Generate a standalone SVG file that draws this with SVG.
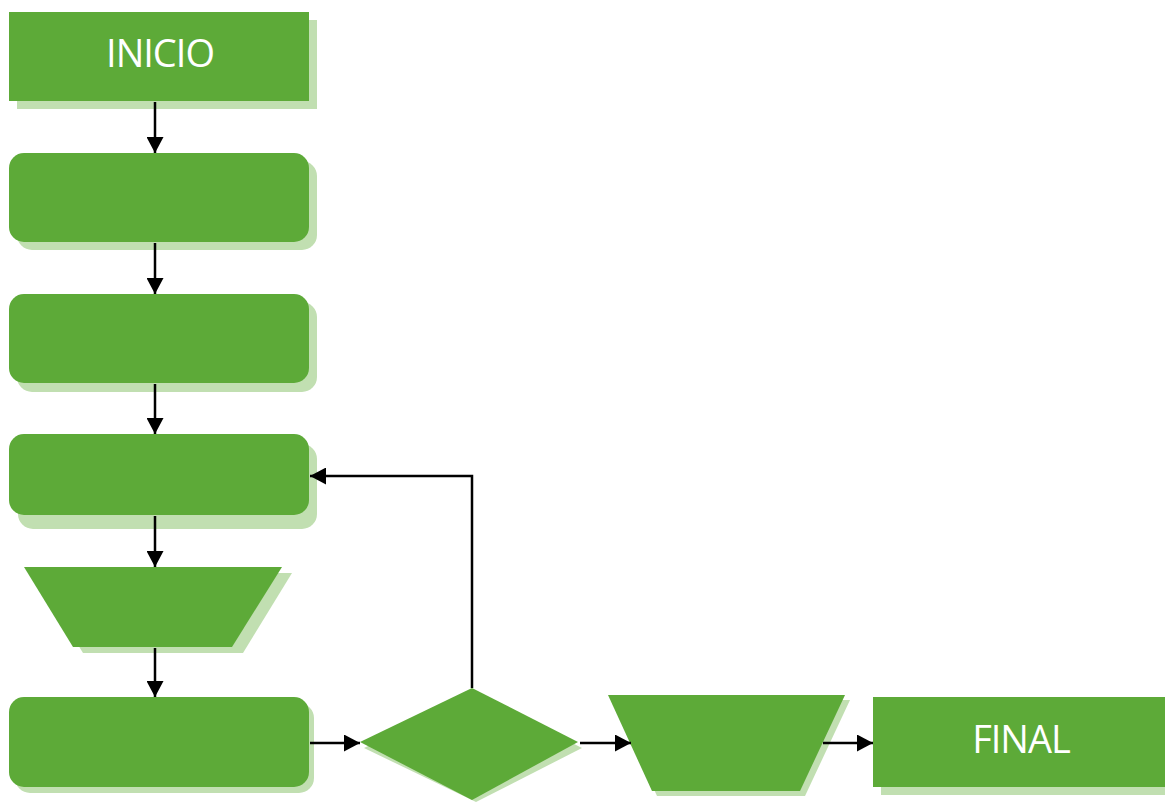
<svg xmlns="http://www.w3.org/2000/svg" width="1165" height="802" viewBox="0 0 1165 802">
  <style>
    .fill { fill: #5DAA38; }
    .shade { fill: #C1DFB1; }
    .label { fill: #ffffff; font-family: "Open Sans", "Liberation Sans", sans-serif; font-size: 38px; letter-spacing: -1px; text-anchor: middle; }
    .link { fill: none; stroke: #000000; stroke-width: 2.5; marker-end: url(#head); }
  </style>
  <defs>
    <marker id="head" markerUnits="userSpaceOnUse" markerWidth="17" markerHeight="17" refX="16" refY="8.5" orient="auto">
      <path d="M0,0 L16,8.5 L0,17 Z" fill="#000000"/>
    </marker>
  </defs>
  <rect width="1165" height="802" fill="#ffffff"/>

  <g id="inicio">
    <rect class="shade" x="17" y="20" width="300" height="89"/>
    <rect class="fill" x="9" y="12" width="300" height="89"/>
    <text class="label" x="160" y="67">INICIO</text>
  </g>

  <g id="step1">
    <rect class="shade" x="17" y="161" width="300" height="89" rx="15"/>
    <rect class="fill" x="9" y="153" width="300" height="89" rx="15"/>
  </g>

  <g id="step2">
    <rect class="shade" x="17" y="302" width="300" height="90" rx="15"/>
    <rect class="fill" x="9" y="294" width="300" height="89" rx="15"/>
  </g>

  <g id="step3">
    <rect class="shade" x="18" y="444" width="299" height="85" rx="15"/>
    <rect class="fill" x="9" y="434" width="300" height="81" rx="15"/>
  </g>

  <g id="manual1">
    <polygon class="shade" points="34,573 292,573 243,653 83,653"/>
    <polygon class="fill" points="24,567 282,567 232,647 73,647"/>
  </g>

  <g id="step4">
    <rect class="shade" x="15" y="703" width="299" height="90" rx="15"/>
    <rect class="fill" x="9" y="697" width="300" height="90" rx="15"/>
  </g>

  <g id="decision">
    <polygon class="shade" points="476,694 582,748 476,802 364,748"/>
    <polygon class="fill" points="472,688 578,742 472,800 360,742"/>
  </g>

  <g id="manual2">
    <polygon class="shade" points="613,700 850,700 805,796 657,796"/>
    <polygon class="fill" points="608,695 845,695 800,791 652,791"/>
  </g>

  <g id="final">
    <rect class="shade" x="881" y="705" width="284" height="90"/>
    <rect class="fill" x="873" y="697" width="292" height="90"/>
    <text class="label" x="1021" y="753">FINAL</text>
  </g>

  <g id="connectors">
    <line class="link" x1="155" y1="102" x2="155" y2="153"/>
    <line class="link" x1="155" y1="243" x2="155" y2="294"/>
    <line class="link" x1="155" y1="384" x2="155" y2="434"/>
    <line class="link" x1="155" y1="516" x2="155" y2="567"/>
    <line class="link" x1="155" y1="648" x2="155" y2="697"/>
    <line class="link" x1="310" y1="743" x2="360" y2="743"/>
    <line class="link" x1="580" y1="743" x2="631" y2="743"/>
    <line class="link" x1="823" y1="743" x2="873" y2="743"/>
    <polyline class="link" points="472,688 472,476 310,476"/>
  </g>
</svg>
